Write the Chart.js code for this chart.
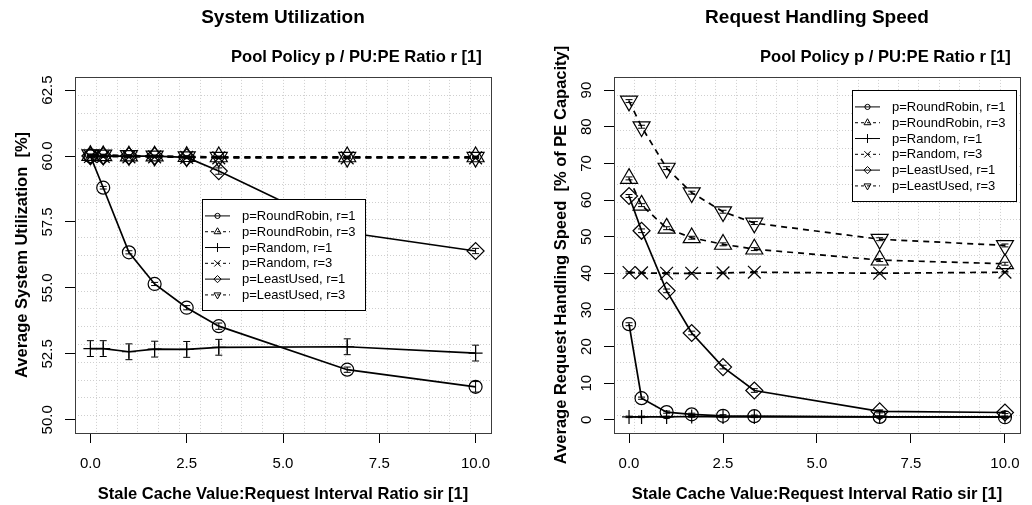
<!DOCTYPE html>
<html><head><meta charset="utf-8">
<script src="https://cdn.jsdelivr.net/npm/chart.js@4/dist/chart.umd.min.js"></script>
<style>
html,body{margin:0;padding:0;background:#fff;width:1032px;height:505px;overflow:hidden;}
canvas{position:absolute;top:0;}
#cl{left:0;} #cr{left:516px;}
</style></head><body>
<canvas id="cl" width="516" height="505"></canvas>
<canvas id="cr" width="516" height="505"></canvas>
<script>
// ---------- data ----------
const sirValues = [0, 0.333, 1, 1.667, 2.5, 3.333, 6.667, 10];
const xTickValues = [0, 2.5, 5, 7.5, 10];
const xTickLabels = ['0.0', '2.5', '5.0', '7.5', '10.0'];
const seriesLabels = ['p=RoundRobin, r=1', 'p=RoundRobin, r=3', 'p=Random, r=1', 'p=Random, r=3', 'p=LeastUsed, r=1', 'p=LeastUsed, r=3'];

const utilRoundRobin1 = [60.0, 58.8, 56.35, 55.15, 54.25, 53.55, 51.9, 51.25];
const utilRoundRobin3 = [60.02, 60.01, 60.0, 60.0, 59.98, 59.97, 59.97, 59.97];
const utilRandom1     = [52.7, 52.7, 52.58, 52.68, 52.67, 52.75, 52.77, 52.53];
const utilRandom3     = [59.98, 59.98, 59.97, 59.97, 59.95, 59.93, 59.93, 59.93];
const utilLeastUsed1  = [60.0, 60.0, 60.0, 60.0, 59.95, 59.43, 57.1, 56.4];
const utilLeastUsed3  = [60.05, 60.04, 60.02, 60.0, 59.97, 59.95, 59.95, 59.95];
const utilRoundRobin1Err = [0.03, 0.05, 0.06, 0.06, 0.08, 0.12, 0.1, 0.2];
const utilRoundRobin3Err = [0.03, 0.03, 0.03, 0.03, 0.03, 0.03, 0.03, 0.03];
const utilRandom1Err     = [0.3, 0.3, 0.3, 0.3, 0.3, 0.3, 0.3, 0.3];
const utilRandom3Err     = [0.03, 0.03, 0.03, 0.03, 0.03, 0.03, 0.03, 0.03];
const utilLeastUsed1Err  = [0.03, 0.03, 0.03, 0.03, 0.05, 0.12, 0.1, 0.1];
const utilLeastUsed3Err  = [0.03, 0.03, 0.03, 0.03, 0.03, 0.03, 0.03, 0.03];
const utilYTickValues = [50, 52.5, 55, 57.5, 60, 62.5];
const utilYTickLabels = ['50.0', '52.5', '55.0', '57.5', '60.0', '62.5'];

const speedRoundRobin1 = [26.1, 5.9, 2.1, 1.5, 1.1, 1.0, 0.8, 0.7];
const speedRoundRobin3 = [65.9, 58.6, 52.3, 49.7, 47.9, 46.6, 43.6, 42.6];
const speedRandom1     = [0.8, 0.8, 0.8, 0.9, 0.8, 0.8, 0.8, 0.8];
const speedRandom3     = [40.2, 40.1, 40.0, 40.0, 40.1, 40.3, 40.0, 40.3];
const speedLeastUsed1  = [61.1, 51.6, 35.2, 23.7, 14.4, 8.0, 2.3, 2.0];
const speedLeastUsed3  = [87.0, 80.0, 68.7, 62.0, 56.8, 53.7, 49.3, 47.6];
const speedRoundRobin1Err = [0.4, 0.3, 0.3, 0.3, 0.3, 0.3, 0.3, 0.3];
const speedRoundRobin3Err = [0.4, 0.4, 0.4, 0.4, 0.4, 0.4, 0.4, 0.4];
const speedRandom1Err     = [0.2, 0.2, 0.2, 0.2, 0.2, 0.2, 0.2, 0.2];
const speedRandom3Err     = [0.2, 0.2, 0.2, 0.2, 0.2, 0.2, 0.2, 0.2];
const speedLeastUsed1Err  = [0.4, 0.5, 0.5, 0.5, 0.5, 0.5, 0.4, 0.3];
const speedLeastUsed3Err  = [0.4, 0.4, 0.4, 0.4, 0.4, 0.4, 0.4, 0.4];
const speedYTickValues = [0, 10, 20, 30, 40, 50, 60, 70, 80, 90];
const speedYTickLabels = ['0', '10', '20', '30', '40', '50', '60', '70', '80', '90'];

// ---------- styles ----------
const FONT = "'Liberation Sans', Arial, Helvetica, sans-serif";
const STYLES = [
  {pointStyle: 'circle',   radius: 6.5, rotation: 0,   dash: [],     lr: 2.6},
  {pointStyle: 'triangle', radius: 9.8, rotation: 0,   dash: [6, 5], lr: 4},
  {pointStyle: 'cross',    radius: 7,   rotation: 0,   dash: [],     lr: 4.5},
  {pointStyle: 'crossRot', radius: 9,   rotation: 0,   dash: [6, 5], lr: 4.5},
  {pointStyle: 'rectRot',  radius: 8.5, rotation: 0,   dash: [],     lr: 3.6},
  {pointStyle: 'triangle', radius: 9.8, rotation: 180, dash: [6, 5], lr: 4}
];

function buildDatasets(series, errs) {
  return series.map((vals, i) => {
    const st = STYLES[i];
    return {
      label: seriesLabels[i],
      data: sirValues.map((x, j) => ({x: x, y: vals[j]})),
      errors: errs[i],
      borderColor: '#000', backgroundColor: 'rgba(0,0,0,0)',
      borderWidth: 1.7, borderDash: st.dash, tension: 0, fill: false,
      pointStyle: st.pointStyle, pointRadius: st.radius, pointHoverRadius: st.radius,
      pointRotation: st.rotation, pointBorderColor: '#000',
      pointBackgroundColor: 'rgba(0,0,0,0)', pointBorderWidth: 1.2
    };
  });
}

function drawMarker(ctx, style, x, y, r, rot) {
  ctx.beginPath();
  if (style === 'circle') {
    ctx.arc(x, y, r, 0, Math.PI * 2);
  } else if (style === 'triangle') {
    let a = rot * Math.PI / 180;
    ctx.moveTo(x + Math.sin(a) * r, y - Math.cos(a) * r);
    for (let k = 1; k < 3; k++) { a += 2 * Math.PI / 3; ctx.lineTo(x + Math.sin(a) * r, y - Math.cos(a) * r); }
    ctx.closePath();
  } else if (style === 'cross') {
    ctx.moveTo(x - r, y); ctx.lineTo(x + r, y); ctx.moveTo(x, y - r); ctx.lineTo(x, y + r);
  } else if (style === 'crossRot') {
    const d = r * Math.SQRT1_2;
    ctx.moveTo(x - d, y - d); ctx.lineTo(x + d, y + d); ctx.moveTo(x + d, y - d); ctx.lineTo(x - d, y + d);
  } else if (style === 'rectRot') {
    ctx.moveTo(x, y - r); ctx.lineTo(x + r, y); ctx.lineTo(x, y + r); ctx.lineTo(x - r, y); ctx.closePath();
  }
  ctx.stroke();
}

const gridPlugin = {
  id: 'rgrid',
  beforeDatasetsDraw(chart) {
    const {ctx, chartArea: a} = chart;
    ctx.save();
    ctx.strokeStyle = '#cfcfcf'; ctx.lineWidth = 1; ctx.setLineDash([1, 2]);
    for (let i = 1; i < 20; i++) {
      const x = Math.round(a.left + (a.right - a.left) * i / 20) + 0.5;
      ctx.beginPath(); ctx.moveTo(x, a.top); ctx.lineTo(x, a.bottom); ctx.stroke();
      const y = Math.round(a.top + (a.bottom - a.top) * i / 20) + 0.5;
      ctx.beginPath(); ctx.moveTo(a.left, y); ctx.lineTo(a.right, y); ctx.stroke();
    }
    ctx.restore();
  },
  afterDatasetsDraw(chart) {
    const {ctx} = chart;
    const xs = chart.scales.x, ys = chart.scales.y;
    ctx.save();
    ctx.strokeStyle = '#000'; ctx.lineWidth = 1; ctx.setLineDash([]);
    chart.data.datasets.forEach(ds => {
      ds.data.forEach((p, j) => {
        const e = ds.errors[j];
        const px = xs.getPixelForValue(p.x);
        const y1 = ys.getPixelForValue(p.y - e), y2 = ys.getPixelForValue(p.y + e);
        ctx.beginPath();
        ctx.moveTo(px, y1); ctx.lineTo(px, y2);
        ctx.moveTo(px - 3.5, y1); ctx.lineTo(px + 3.5, y1);
        ctx.moveTo(px - 3.5, y2); ctx.lineTo(px + 3.5, y2);
        ctx.stroke();
      });
    });
    ctx.restore();
  },
  afterDraw(chart) {
    const {ctx, chartArea: a} = chart;
    ctx.save();
    ctx.strokeStyle = '#3c3c3c'; ctx.lineWidth = 1;
    ctx.strokeRect(Math.round(a.left) + 0.5, Math.round(a.top) + 0.5, Math.round(a.right - a.left), Math.round(a.bottom - a.top));
    ctx.restore();
  }
};

const legendPlugin = {
  id: 'rlegend',
  afterDatasetsDraw(chart, args, opts) {
    const {ctx, chartArea: a} = chart;
    const L = a.left + opts.dx, T = a.top + opts.dy;
    ctx.save();
    ctx.fillStyle = '#fff';
    ctx.fillRect(L, T, opts.w, opts.h);
    ctx.strokeStyle = '#000'; ctx.lineWidth = 1; ctx.setLineDash([]);
    ctx.strokeRect(Math.round(L) + 0.5, Math.round(T) + 0.5, opts.w, opts.h);
    chart.data.datasets.forEach((ds, i) => {
      const st = STYLES[i];
      const y = T + 17 + i * 15.8;
      ctx.strokeStyle = '#000'; ctx.lineWidth = 1;
      ctx.setLineDash(st.dash.length ? [3, 3] : []);
      ctx.beginPath(); ctx.moveTo(L + 3, y); ctx.lineTo(L + 28, y); ctx.stroke();
      ctx.setLineDash([]);
      drawMarker(ctx, st.pointStyle, L + 15.5, y, st.lr, st.rotation);
      ctx.fillStyle = '#000';
      ctx.font = '13px ' + FONT;
      ctx.textBaseline = 'middle'; ctx.textAlign = 'left';
      ctx.fillText(ds.label, L + 40, y + 0.5);
    });
    ctx.restore();
  }
};

function makeChart(id, cfg) {
  return new Chart(document.getElementById(id), {
    type: 'line',
    data: {datasets: buildDatasets(cfg.series, cfg.errors)},
    plugins: [gridPlugin, legendPlugin],
    options: {
      responsive: false, animation: false, devicePixelRatio: 1,
      layout: {padding: {left: 0, right: cfg.padRight, top: 0, bottom: 0}},
      plugins: {
        legend: {display: false},
        tooltip: {enabled: false},
        title: {display: true, text: cfg.title, fullSize: false, color: '#000',
                font: {family: FONT, size: 19, weight: 'bold'}, padding: {top: 6.6, bottom: 0}},
        subtitle: {display: true, text: 'Pool Policy p / PU:PE Ratio r [1]  ', fullSize: false, align: 'end', color: '#000',
                   font: {family: FONT, size: 16.6, weight: 'bold'}, padding: {top: 17.6, bottom: 10}},
        rlegend: cfg.legend
      },
      scales: {
        x: {
          type: 'linear', min: -0.4, max: 10.4,
          afterFit(s) { s.height = 72; },
          afterBuildTicks(s) { s.ticks = xTickValues.map(v => ({value: v})); },
          ticks: {autoSkip: false, maxRotation: 0, minRotation: 0, padding: 12, color: '#000',
                  font: {family: FONT, size: 15}, callback: (v, i) => xTickLabels[i]},
          grid: {drawOnChartArea: false, drawTicks: true, tickLength: 10, color: '#000', lineWidth: 1},
          border: {display: false},
          title: {display: true, text: 'Stale Cache Value:Request Interval Ratio sir [1]', color: '#000',
                  font: {family: FONT, size: 16.5, weight: 'bold'}, padding: {top: 0, bottom: 1}}
        },
        y: {
          type: 'linear', min: cfg.yMin, max: cfg.yMax,
          afterFit(s) { s.width = cfg.axisWidth; },
          afterBuildTicks(s) { s.ticks = cfg.yTickValues.map(v => ({value: v})); },
          ticks: {autoSkip: false, minRotation: 90, maxRotation: 90, crossAlign: 'center', padding: cfg.yTickPad,
                  color: '#000', font: {family: FONT, size: 15}, callback: (v, i) => cfg.yTickLabels[i]},
          grid: {drawOnChartArea: false, drawTicks: true, tickLength: 10, color: '#000', lineWidth: 1},
          border: {display: false},
          title: {display: true, text: cfg.yTitle, color: '#000',
                  font: {family: FONT, size: 16.5, weight: 'bold'}, padding: {top: cfg.yTitlePad, bottom: 0}}
        }
      }
    }
  });
}

makeChart('cl', {
  title: 'System Utilization',
  series: [utilRoundRobin1, utilRoundRobin3, utilRandom1, utilRandom3, utilLeastUsed1, utilLeastUsed3],
  errors: [utilRoundRobin1Err, utilRoundRobin3Err, utilRandom1Err, utilRandom3Err, utilLeastUsed1Err, utilLeastUsed3Err],
  yMin: 49.5, yMax: 63.0, yTickValues: utilYTickValues, yTickLabels: utilYTickLabels,
  yTitle: 'Average System Utilization  [%]',
  axisWidth: 75, padRight: 25, yTickPad: 2.9, yTitlePad: 12.1,
  legend: {dx: 127, dy: 122, w: 163, h: 111}
});

makeChart('cr', {
  title: 'Request Handling Speed',
  series: [speedRoundRobin1, speedRoundRobin3, speedRandom1, speedRandom3, speedLeastUsed1, speedLeastUsed3],
  errors: [speedRoundRobin1Err, speedRoundRobin3Err, speedRandom1Err, speedRandom3Err, speedLeastUsed1Err, speedLeastUsed3Err],
  yMin: -3.6, yMax: 93.6, yTickValues: speedYTickValues, yTickLabels: speedYTickLabels,
  yTitle: 'Average Request Handling Speed  [% of PE Capacity]',
  axisWidth: 98, padRight: 3, yTickPad: 9.2, yTitlePad: 35.1,
  legend: {dx: 238, dy: 13, w: 164, h: 111}
});
</script>
</body></html>
